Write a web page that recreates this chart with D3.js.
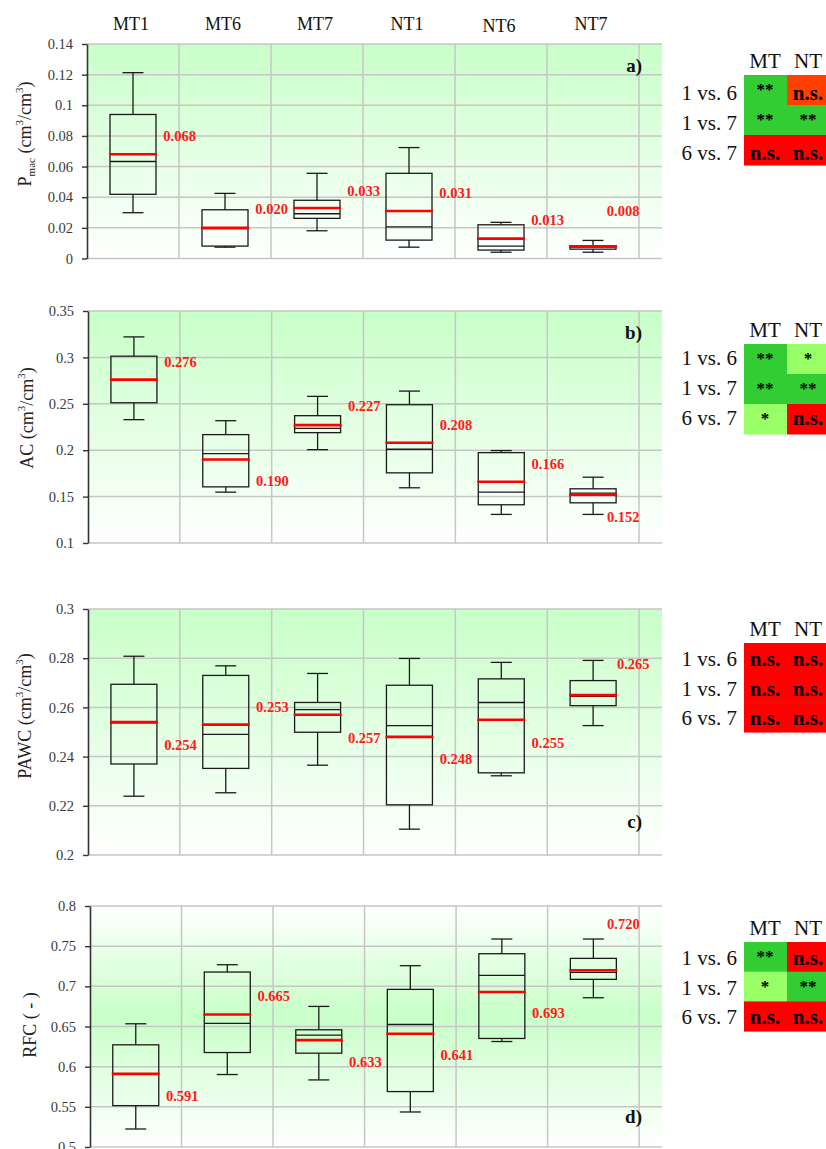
<!DOCTYPE html>
<html><head><meta charset="utf-8">
<script src="https://cdn.jsdelivr.net/npm/d3@7"></script>
<style>body{margin:0;background:#fff;} svg{display:block;}</style>
</head><body><svg id="c" width="826" height="1149"></svg>
<script>
// ---------- data ----------
const categories = ["MT1","MT6","MT7","NT1","NT6","NT7"];
const comparisons = ["1 vs. 6","1 vs. 7","6 vs. 7"];
const tillage = ["MT","NT"];

// a) Pmac
const pmacLow    = [0.0299,0.0074,0.0181,0.0074,0.0041,0.0041];
const pmacQ1     = [0.0419,0.0081,0.0262,0.0120,0.0055,0.0061];
const pmacMedian = [0.0633,0.0195,0.0292,0.0207,0.0081,0.0074];
const pmacQ3     = [0.0940,0.0318,0.0380,0.0556,0.0220,0.0083];
const pmacHigh   = [0.1213,0.0425,0.0556,0.0724,0.0236,0.0118];
const pmacMean   = [0.068,0.020,0.033,0.031,0.013,0.008];
const pmacLabelAt= [0.080,0.032,0.0443,0.043,0.0249,0.0312];
const pmacTicks  = [0,0.02,0.04,0.06,0.08,0.1,0.12,0.14];
const pmacSigMT  = ["**","**","n.s."];
const pmacSigNT  = ["n.s.","**","n.s."];

// b) AC
const acLow    = [0.2329,0.1548,0.2006,0.1595,0.1308,0.1308];
const acQ1     = [0.2511,0.1605,0.2189,0.1756,0.1412,0.1433];
const acMedian = [0.2759,0.1963,0.2236,0.2010,0.1548,0.1537];
const acQ3     = [0.3013,0.2168,0.2372,0.2490,0.1974,0.1584];
const acHigh   = [0.3221,0.2318,0.2580,0.2637,0.1996,0.1709];
const acMean   = [0.276,0.190,0.227,0.208,0.166,0.152];
const acLabelAt= [0.2952,0.1673,0.2472,0.2275,0.1856,0.1276];
const acTicks  = [0.1,0.15,0.2,0.25,0.3,0.35];
const acSigMT  = ["**","**","*"];
const acSigNT  = ["*","**","n.s."];

// c) PAWC
const pawcLow    = [0.2239,0.2253,0.2365,0.2105,0.2322,0.2526];
const pawcQ1     = [0.2370,0.2352,0.2499,0.2204,0.2334,0.2607];
const pawcMedian = [0.2537,0.2490,0.2591,0.2526,0.2620,0.2645];
const pawcQ3     = [0.2694,0.2730,0.2620,0.2690,0.2716,0.2709];
const pawcHigh   = [0.2808,0.2769,0.2738,0.2799,0.2783,0.2791];
const pawcMean   = [0.254,0.253,0.257,0.248,0.255,0.265];
const pawcLabelAt= [0.2448,0.2603,0.2477,0.2391,0.2457,0.2775];
const pawcTicks  = [0.2,0.22,0.24,0.26,0.28,0.3];
const pawcSigMT  = ["n.s.","n.s.","n.s."];
const pawcSigNT  = ["n.s.","n.s.","n.s."];

// d) RFC
const rfcLow    = [0.5224,0.5902,0.5835,0.5436,0.6313,0.6858];
const rfcQ1     = [0.5515,0.6176,0.6168,0.5690,0.6351,0.7087];
const rfcMedian = [0.5910,0.6538,0.6392,0.6525,0.7136,0.7174];
const rfcQ3     = [0.6272,0.7178,0.6459,0.6962,0.7406,0.7348];
const rfcHigh   = [0.6534,0.7269,0.6750,0.7257,0.7589,0.7589];
const rfcMean   = [0.591,0.665,0.633,0.641,0.693,0.720];
const rfcLabelAt= [0.5636,0.6874,0.6060,0.6151,0.6662,0.7780];
const rfcTicks  = [0.5,0.55,0.6,0.65,0.7,0.75,0.8];
const rfcSigMT  = ["**","*","n.s."];
const rfcSigNT  = ["n.s.","**","n.s."];

// ---------- layout / style ----------
const panels = [
  {key:"a)", low:pmacLow,q1:pmacQ1,med:pmacMedian,q3:pmacQ3,high:pmacHigh,mean:pmacMean,lab:pmacLabelAt,ticks:pmacTicks,sigMT:pmacSigMT,sigNT:pmacSigNT,
   top:44,bottom:258.5,left:87,grad:"top",letterY:72,titleX:25,titleY:134,title:"pmac",tblTop:75,rowH:30,lblOff:25,labDx:[0.83,0.83,0.83,0.83,0.83,0.65],
   fillOverride:{"NT0":"#ff4000"}},
  {key:"b)", low:acLow,q1:acQ1,med:acMedian,q3:acQ3,high:acHigh,mean:acMean,lab:acLabelAt,ticks:acTicks,sigMT:acSigMT,sigNT:acSigNT,
   top:311,bottom:543,left:88,grad:"top",letterY:339,titleX:27,titleY:418,title:"ac",tblTop:344,rowH:30,lblOff:21,labDx:[0.83,0.83,0.83,0.83,0.83,0.65]},
  {key:"c)", low:pawcLow,q1:pawcQ1,med:pawcMedian,q3:pawcQ3,high:pawcHigh,mean:pawcMean,lab:pawcLabelAt,ticks:pawcTicks,sigMT:pawcSigMT,sigNT:pawcSigNT,
   top:609,bottom:855,left:88,grad:"top",letterY:828,titleX:25,titleY:716,title:"pawc",tblTop:643,rowH:29.7,lblOff:23,labDx:[0.83,0.83,0.83,0.83,0.83,0.76]},
  {key:"d)", low:rfcLow,q1:rfcQ1,med:rfcMedian,q3:rfcQ3,high:rfcHigh,mean:rfcMean,lab:rfcLabelAt,ticks:rfcTicks,sigMT:rfcSigMT,sigNT:rfcSigNT,
   top:906,bottom:1147,left:90,grad:"mid",letterY:1123,titleX:30,titleY:1025,title:"rfc",tblTop:942,rowH:29.7,lblOff:23,labDx:[0.83,0.83,0.83,0.83,0.83,0.65]}
];
const RIGHT = 662;
const SERIF = "'Liberation Serif','Times New Roman',serif";
const sigFill = {"**":"#33cc33","*":"#99ff66","n.s.":"#ff0000"};

const svg = d3.select("#c");
const defs = svg.append("defs");
const gTop = defs.append("linearGradient").attr("id","gTop").attr("x1",0).attr("y1",0).attr("x2",0).attr("y2",1);
gTop.append("stop").attr("offset",0).attr("stop-color","#c8ffc8");
gTop.append("stop").attr("offset",1).attr("stop-color","#ffffff");
const gMid = defs.append("linearGradient").attr("id","gMid").attr("x1",0).attr("y1",0).attr("x2",0).attr("y2",1);
gMid.append("stop").attr("offset",0).attr("stop-color","#ffffff");
gMid.append("stop").attr("offset",0.45).attr("stop-color","#c8ffc8");
gMid.append("stop").attr("offset",1).attr("stop-color","#ffffff");

const fmt = d => String(+d.toFixed(4));

panels.forEach((p, pi) => {
  const g = svg.append("g");
  const x = d3.scaleLinear().domain([0, 6.25]).range([p.left, RIGHT]);
  const y = d3.scaleLinear().domain([p.ticks[0], p.ticks[p.ticks.length-1]]).range([p.bottom, p.top]);

  // background
  g.append("rect").attr("x",p.left).attr("y",p.top).attr("width",RIGHT-p.left).attr("height",p.bottom-p.top)
    .attr("fill", p.grad==="top" ? "url(#gTop)" : "url(#gMid)");

  // gridlines
  g.selectAll(".hg").data(p.ticks).join("line")
    .attr("x1",p.left).attr("x2",RIGHT).attr("y1",d=>y(d)).attr("y2",d=>y(d))
    .attr("stroke","#c6c6c6").attr("stroke-width",1.5);
  g.selectAll(".vg").data(d3.range(1,7)).join("line")
    .attr("x1",d=>x(d)).attr("x2",d=>x(d)).attr("y1",p.top).attr("y2",p.bottom)
    .attr("stroke","#c6c6c6").attr("stroke-width",1.5);

  // axis
  const ax = g.append("g").attr("transform",`translate(${p.left},0)`)
    .call(d3.axisLeft(y).tickValues(p.ticks).tickFormat(fmt).tickSize(5).tickSizeOuter(0).tickPadding(9));
  ax.select(".domain").attr("stroke","#333").attr("stroke-width",1.6);
  ax.selectAll(".tick line").attr("stroke","#333").attr("stroke-width",1.4);
  ax.selectAll(".tick text").attr("font-family",SERIF).attr("font-size",14.5).attr("fill","#3a3a3a");

  // boxes
  const bw = 46, cw = 21;
  categories.forEach((c, i) => {
    const cx = x(i + 0.5);
    const bg = g.append("g").attr("stroke","#1a1a1a").attr("stroke-width",1.3).attr("fill","none");
    bg.append("line").attr("x1",cx).attr("x2",cx).attr("y1",y(p.q3[i])).attr("y2",y(p.high[i]));
    bg.append("line").attr("x1",cx).attr("x2",cx).attr("y1",y(p.q1[i])).attr("y2",y(p.low[i]));
    bg.append("line").attr("x1",cx-cw/2).attr("x2",cx+cw/2).attr("y1",y(p.high[i])).attr("y2",y(p.high[i]));
    bg.append("line").attr("x1",cx-cw/2).attr("x2",cx+cw/2).attr("y1",y(p.low[i])).attr("y2",y(p.low[i]));
    bg.append("rect").attr("x",cx-bw/2).attr("y",y(p.q3[i])).attr("width",bw).attr("height",y(p.q1[i])-y(p.q3[i]));
    bg.append("line").attr("x1",cx-bw/2).attr("x2",cx+bw/2).attr("y1",y(p.med[i])).attr("y2",y(p.med[i]));
    g.append("line").attr("x1",cx-bw/2-1).attr("x2",cx+bw/2+1).attr("y1",y(p.mean[i])).attr("y2",y(p.mean[i]))
      .attr("stroke","#ff0000").attr("stroke-width",2.6);
    g.append("text").attr("x", x(i + p.labDx[i])).attr("y", y(p.lab[i]) + 5)
      .attr("font-family",SERIF).attr("font-weight","bold").attr("font-size",14.5).attr("fill","#ff1a1a")
      .text(p.mean[i].toFixed(3));
  });

  // panel letter
  g.append("text").attr("x",642).attr("y",p.letterY).attr("text-anchor","end")
    .attr("font-family",SERIF).attr("font-weight","bold").attr("font-size",19).attr("fill","#111").text(p.key);

  // y title
  const t = g.append("text").attr("transform",`translate(${p.titleX},${p.titleY}) rotate(-90)`)
    .attr("text-anchor","middle").attr("dominant-baseline","central")
    .attr("font-family",SERIF).attr("font-size",18).attr("fill","#222");
  const sup3 = sel => sel.append("tspan").attr("baseline-shift","super").attr("font-size",11).text("3");
  if (p.title==="pmac") {
    t.append("tspan").text("P");
    t.append("tspan").attr("baseline-shift","sub").attr("font-size",11).text("mac");
    t.append("tspan").text(" (cm");
  } else if (p.title==="ac") {
    t.append("tspan").text("AC (cm");
  } else if (p.title==="pawc") {
    t.append("tspan").text("PAWC (cm");
  }
  if (p.title==="rfc") {
    t.append("tspan").text("RFC ( - )");
  } else {
    sup3(t); t.append("tspan").text("/cm"); sup3(t); t.append("tspan").text(")");
  }

  // significance table
  const colX = [744, 787], colW = [43, 45];
  tillage.forEach((tl, ci) => {
    g.append("text").attr("x", colX[ci] + 21).attr("y", p.tblTop - 7).attr("text-anchor","middle")
      .attr("font-family",SERIF).attr("font-size",21).attr("fill","#111").text(tl);
    const sig = ci === 0 ? p.sigMT : p.sigNT;
    sig.forEach((s, ri) => {
      const yy = p.tblTop + ri * p.rowH;
      const ov = p.fillOverride && p.fillOverride[tl + ri];
      g.append("rect").attr("x", colX[ci]).attr("y", yy).attr("width", colW[ci]).attr("height", p.rowH + 0.5)
        .attr("fill", ov || sigFill[s]);
      if (s === "n.s.") {
        g.append("text").attr("x", colX[ci] + 21).attr("y", yy + p.lblOff).attr("text-anchor","middle")
          .attr("font-family",SERIF).attr("font-weight","bold").attr("font-size",21).attr("fill","#000").text(s);
      } else {
        g.append("text").attr("x", colX[ci] + 21).attr("y", yy + 20).attr("text-anchor","middle")
          .attr("font-family",SERIF).attr("font-weight","bold").attr("font-size",17).attr("fill","#000").text(s);
      }
    });
  });
  comparisons.forEach((cmp, ri) => {
    g.append("text").attr("x", 737).attr("y", p.tblTop + ri * p.rowH + p.lblOff).attr("text-anchor","end")
      .attr("font-family",SERIF).attr("font-size",21).attr("fill","#111").text(cmp);
  });
});

// category labels at top
const xTop = d3.scaleLinear().domain([0, 6.25]).range([87, RIGHT]);
svg.selectAll(".cat").data(categories).join("text")
  .attr("x",(d,i)=>xTop(i+0.5)-2).attr("y",(d,i)=> i===4 ? 32 : 30).attr("text-anchor","middle")
  .attr("font-family",SERIF).attr("font-size",18).attr("fill","#111").text(d=>d);
</script></body></html>
